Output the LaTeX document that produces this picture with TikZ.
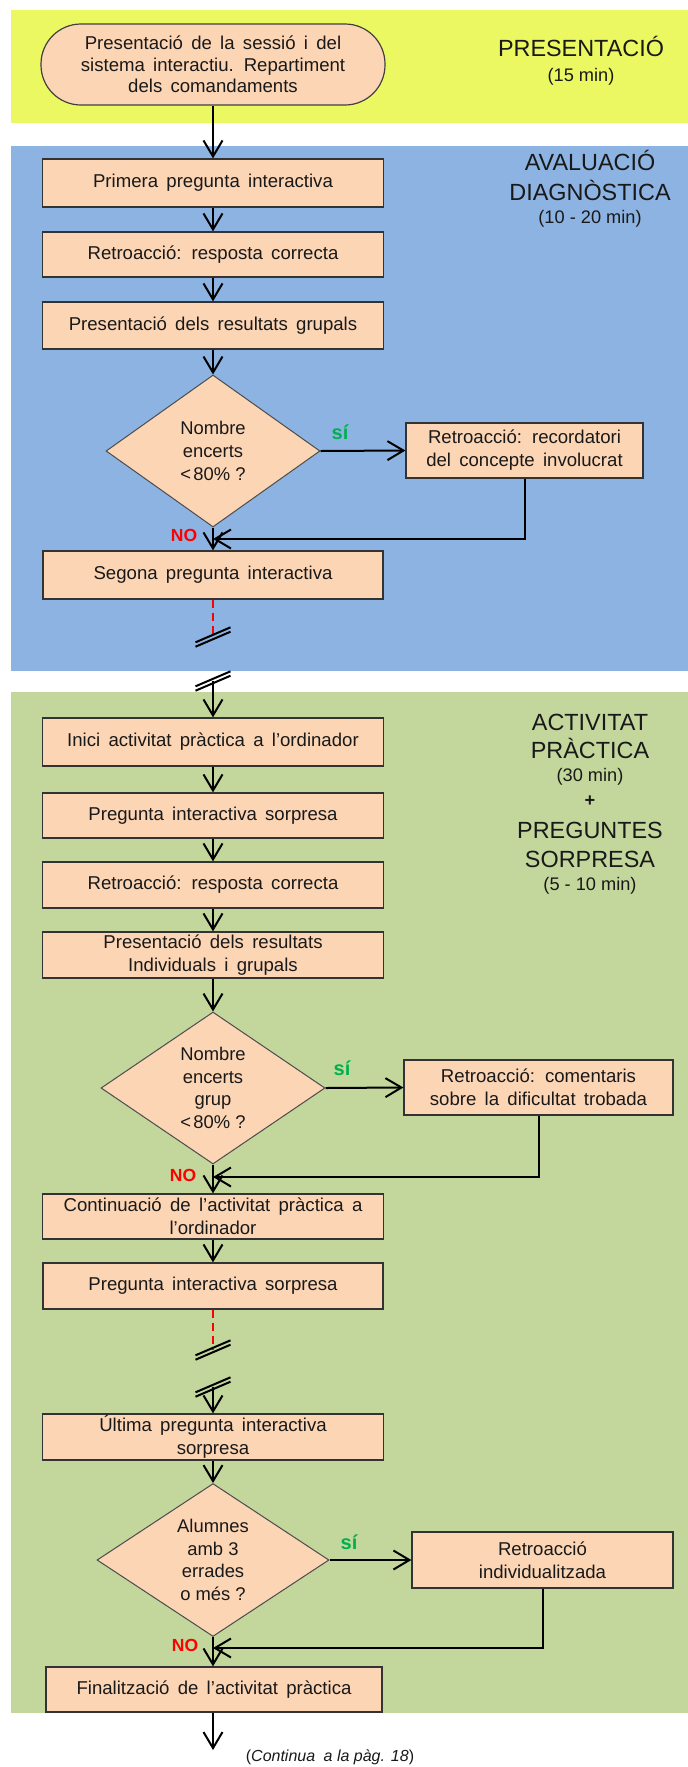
\documentclass[tikz,border=0pt]{standalone}
\usepackage{fontspec}
\setmainfont{Liberation Sans}
\newfontfamily\boxfont[WordSpace=1.6]{Liberation Sans}
\usetikzlibrary{arrows.meta,shapes.geometric}
\definecolor{bandyellow}{RGB}{235,248,97}
\definecolor{bandblue}{RGB}{141,179,226}
\definecolor{bandgreen}{RGB}{195,214,155}
\definecolor{boxfill}{RGB}{252,213,181}
\definecolor{yesgreen}{RGB}{0,176,80}
\definecolor{nored}{RGB}{255,0,0}
% two short parallel strokes marking an interrupted flow line
\newcommand{\breakmark}[1]{%
  \draw[brk] (#1) ++(-17.5,5.3) -- ++(35,-15);
  \draw[brk] (#1) ++(-17.5,9.7) -- ++(35,-15);}
\begin{document}
\begin{tikzpicture}[x=0.5pt,y=-0.5pt,
  txt/.style={font=\boxfont\fontsize{9.3}{11.5}\selectfont, text=black!90, align=center},
  stepbox/.style={txt, draw=black!80, line width=0.6pt, fill=boxfill, inner sep=0pt, minimum width=170.5pt},
  terminal/.style={txt, draw=black!75, line width=0.6pt, fill=boxfill, inner sep=0pt,
    rounded corners=20pt, minimum width=172pt, minimum height=40.5pt, font=\boxfont\fontsize{9.3}{10.85}\selectfont},
  decision/.style={txt, diamond, draw=black!70, line width=0.5pt, fill=boxfill, inner sep=0pt,
    font=\fontsize{9.2}{11.3}\selectfont},
  arr/.style={line width=1pt, -{Straight Barb[length=8pt,width=9.5pt,line width=1pt]}},
  gap/.style={line width=1pt, nored, dash pattern=on 4pt off 2.5pt},
  brk/.style={line width=1pt, black},
  yes/.style={font=\fontsize{10}{12}\selectfont\bfseries, text=yesgreen},
  no/.style={font=\fontsize{8.75}{10}\selectfont\bfseries, text=nored},
  title/.style={font=\fontsize{11.7}{14}\selectfont, text=black!90, anchor=base},
  sub/.style={font=\fontsize{9.1}{11}\selectfont, text=black!90, anchor=base},
]
\useasboundingbox (0,0) rectangle (688,1767);

% phase bands
\fill[bandyellow] (11,10) rectangle (688,123);
\fill[bandblue] (11,146) rectangle (688,671);
\fill[bandgreen] (11,692) rectangle (688,1713);

% phase titles
\node[title] (tp1) at (581,56) {PRESENTACIÓ};
\node[sub] (tp2) at (581,81) {(15 min)};
\node[title] (ta1) at (590,170.5) {AVALUACIÓ};
\node[title] (ta2) at (590,200.5) {DIAGNÒSTICA};
\node[sub] (ta3) at (590,223) {(10 - 20 min)};
\node[title] (tc1) at (590,730) {ACTIVITAT};
\node[title] (tc2) at (590,758.5) {PRÀCTICA};
\node[sub] (tc3) at (590,781.5) {(30 min)};
\node[sub] (tc4) at (590,806.5) {\bfseries +};
\node[title] (tc5) at (590,838.5) {PREGUNTES};
\node[title] (tc6) at (590,867.5) {SORPRESA};
\node[sub] (tc7) at (590,890) {(5 - 10 min)};

% presentation
\node[terminal] (st) at (213,64.5) {Presentació de la sessió i del\\sistema interactiu. Repartiment\\dels comandaments};

% diagnostic assessment
\node[stepbox, minimum height=24pt] (b1) at (213,183) {Primera pregunta interactiva};
\node[stepbox, minimum height=22.5pt] (b2) at (213,254.5) {Retroacció: resposta correcta};
\node[stepbox, minimum height=23.5pt] (b3) at (213,325.5) {Presentació dels resultats grupals};
\node[decision, minimum width=107pt, minimum height=76pt] (d1) at (213,451) {Nombre\\encerts\\<\hspace{0.12em}80\% ?};
\node[stepbox, minimum width=118.5pt, minimum height=27.5pt] (r1) at (524.5,450.5) {Retroacció: recordatori\\del concepte involucrat};
\node[stepbox, minimum width=170pt, minimum height=24pt] (b4) at (213,575) {Segona pregunta interactiva};
\coordinate (m1) at (213,539);
\coordinate (s1) at (213,637);
\coordinate (s2) at (213,681);

% practical activity
\node[stepbox, minimum height=24pt] (g1) at (213,742) {Inici activitat pràctica a l’ordinador};
\node[stepbox, minimum height=22.5pt] (g2) at (213,815.5) {Pregunta interactiva sorpresa};
\node[stepbox, minimum height=23pt] (g3) at (213,885) {Retroacció: resposta correcta};
\node[stepbox, minimum height=23pt] (g4) at (213,955) {Presentació dels resultats\\Individuals i grupals};
\node[decision, minimum width=112pt, minimum height=76pt] (d2) at (213,1088) {Nombre\\encerts\\grup\\<\hspace{0.12em}80\% ?};
\node[stepbox, minimum width=134.5pt, minimum height=27.5pt] (r2) at (538.5,1087.5) {Retroacció: comentaris\\sobre la dificultat trobada};
\node[stepbox, minimum height=22.5pt] (g5) at (213,1216.5) {Continuació de l’activitat pràctica a\\l’ordinador};
\node[stepbox, minimum width=170pt, minimum height=23pt] (g6) at (213,1286) {Pregunta interactiva sorpresa};
\coordinate (m2) at (213,1177);
\coordinate (s3) at (213,1350);
\coordinate (s4) at (213,1387);
\node[stepbox, minimum height=23pt] (g7) at (213,1437) {Última pregunta interactiva\\sorpresa};
\node[decision, minimum width=116pt, minimum height=75pt] (d3) at (213,1560) {Alumnes\\amb 3\\errades\\o més ?};
\node[stepbox, minimum width=130.5pt, minimum height=28pt] (r3) at (542.5,1560) {Retroacció\\individualitzada};
\node[stepbox, minimum width=168pt, minimum height=22.5pt] (g8) at (214,1689.5) {Finalització de l’activitat pràctica};
\coordinate (m3) at (213,1648);
\coordinate (fin) at (213,1750);
\node[font=\fontsize{8}{10}\selectfont, text=black!90] (cont) at (330,1757) {(\textit{Continua\hspace{0.25em} a la pàg. 18})};

% flow
\draw[arr] (st.south) -- (b1.north);
\draw[arr] (b1) -- (b2);
\draw[arr] (b2) -- (b3);
\draw[arr] (b3) -- (d1);
\draw[arr] (d1.east) -- (r1.west);
\draw[arr] (d1.south) -- (b4.north);
\draw[arr] (r1.south) |- (m1);
\draw[gap] (b4.south) -- (s1);
\breakmark{s1}
\breakmark{s2}
\draw[arr] (s2) -- (g1.north);

\draw[arr] (g1) -- (g2);
\draw[arr] (g2) -- (g3);
\draw[arr] (g3) -- (g4);
\draw[arr] (g4) -- (d2);
\draw[arr] (d2.east) -- (r2.west);
\draw[arr] (d2.south) -- (g5.north);
\draw[arr] (r2.south) |- (m2);
\draw[arr] (g5) -- (g6);
\draw[gap] (g6.south) -- (s3);
\breakmark{s3}
\breakmark{s4}
\draw[arr] (s4) -- (g7.north);
\draw[arr] (g7) -- (d3);
\draw[arr] (d3.east) -- (r3.west);
\draw[arr] (d3.south) -- (g8.north -| d3.south);
\draw[arr] (r3.south) |- (m3);
\draw[arr] (g8.south -| fin) -- (fin);

% branch labels
\node[yes] (y1) at (340,432) {sí};
\node[no] (n1) at (184,535) {NO};
\node[yes] (y2) at (342,1068) {sí};
\node[no] (n2) at (183,1175) {NO};
\node[yes] (y3) at (349,1542) {sí};
\node[no] (n3) at (185,1645) {NO};
\end{tikzpicture}
\end{document}
